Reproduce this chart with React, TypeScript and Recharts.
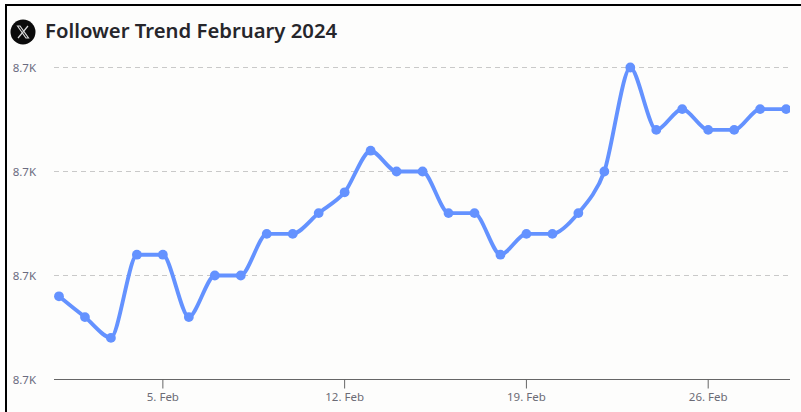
import React from "react";
import { LineChart, Line, XAxis, YAxis, CartesianGrid } from "recharts";

const days = [1,2,3,4,5,6,7,8,9,10,11,12,13,14,15,16,17,18,19,20,21,22,23,24,25,26,27,28,29];
const followers = [8684,8683,8682,8686,8686,8683,8685,8685,8687,8687,8688,8689,8691,8690,8690,8688,8688,8686,8687,8687,8688,8690,8695,8692,8693,8692,8692,8693,8693];
const xTicks = [5,12,19,26];
const yTicks = [8680,8685,8690,8695];
const data = days.map((day, i) => ({ day, followers: followers[i] }));

const FONT = "'Noto Sans', sans-serif";

// Spline with the neighbour-based control points used by the original chart's smooth line
const splineCurve = (context: any) => {
  let pts: [number, number][] = [];
  return {
    areaStart() {},
    areaEnd() {},
    lineStart() { pts = []; },
    point(x: number, y: number) { pts.push([+x, +y]); },
    lineEnd() {
      const s = 2.5, d = 3.5;
      let prevRX = 0, prevRY = 0;
      pts.forEach(([x, y], i) => {
        if (i === 0) { context.moveTo(x, y); prevRX = x; prevRY = y; return; }
        let lx = x, ly = y, rx = x, ry = y;
        const next = pts[i + 1];
        if (next) {
          const [px, py] = pts[i - 1];
          const [nx, ny] = next;
          lx = (s * x + px) / d; ly = (s * y + py) / d;
          rx = (s * x + nx) / d; ry = (s * y + ny) / d;
          const c = ((ry - ly) * (rx - x)) / (rx - lx) + y - ry;
          ly += c; ry += c;
          if (ly > py && ly > y) { ly = Math.max(py, y); ry = 2 * y - ly; }
          else if (ly < py && ly < y) { ly = Math.min(py, y); ry = 2 * y - ly; }
          if (ry > ny && ry > y) { ry = Math.max(ny, y); ly = 2 * y - ry; }
          else if (ry < ny && ry < y) { ry = Math.min(ny, y); ly = 2 * y - ry; }
        }
        context.bezierCurveTo(prevRX, prevRY, lx, ly, x, y);
        prevRX = rx; prevRY = ry;
      });
    },
  };
};

export default function App() {
  return (
    <div style={{ position: "absolute", left: 0, top: 0, width: 801, height: 412, background: "#fff", overflow: "hidden" }}>
      <div style={{ position: "absolute", left: 5, top: 4, width: 796, height: 408, boxSizing: "border-box", borderTop: "2px solid #000", borderLeft: "2px solid #000", background: "#fdfdfc" }} />
      <svg width={26} height={26} viewBox="0 0 26 26" style={{ position: "absolute", left: 10, top: 19 }}>
        <circle cx={13} cy={13} r={12.5} fill="#0b0b0b" />
        <path d="M7.5 7 L16 19 H18.5 L10 7 Z" fill="none" stroke="#d8d8d8" strokeWidth={1.2} />
        <path d="M18 7 L8 19" stroke="#d8d8d8" strokeWidth={1.2} />
      </svg>
      <div style={{ position: "absolute", left: 45, top: 16, fontFamily: FONT, fontWeight: 600, fontSize: 20.3, lineHeight: "28px", color: "#26262b", whiteSpace: "nowrap" }}>
        Follower Trend February 2024
      </div>
      <div style={{ position: "absolute", left: 0, top: 0 }}>
        <LineChart width={801} height={412} data={data} margin={{ top: 67.5, right: 11, bottom: 0, left: 0 }}>
          <CartesianGrid horizontal vertical={false} stroke="#c9c9c9" strokeDasharray="5 4" />
          <XAxis
            dataKey="day"
            type="number"
            domain={[0.808, 29.15]}
            ticks={xTicks}
            allowDataOverflow
            tickFormatter={(d: number) => `${d}. Feb`}
            stroke="#666666"
            tickSize={9}
            tickMargin={4}
            height={32.5}
            tick={{ fontSize: 11.5, fill: "#6b6b75", fontFamily: FONT }}
          />
          <YAxis
            type="number"
            domain={[8680, 8695]}
            ticks={yTicks}
            width={54}
            axisLine={false}
            tickLine={false}
            tickSize={0}
            tickMargin={18}
            interval={0}
            tickFormatter={(v: number) => `${(v / 1000).toFixed(1)}K`}
            tick={{ fontSize: 11.5, fill: "#6b6b80", fontFamily: FONT }}
          />
          <Line
            dataKey="followers"
            type={splineCurve as any}
            stroke="#6492ff"
            strokeWidth={3.9}
            dot={{ r: 4.9, fill: "#6492ff", stroke: "#6492ff", strokeWidth: 0 }}
            isAnimationActive={false}
          />
        </LineChart>
      </div>
    </div>
  );
}
